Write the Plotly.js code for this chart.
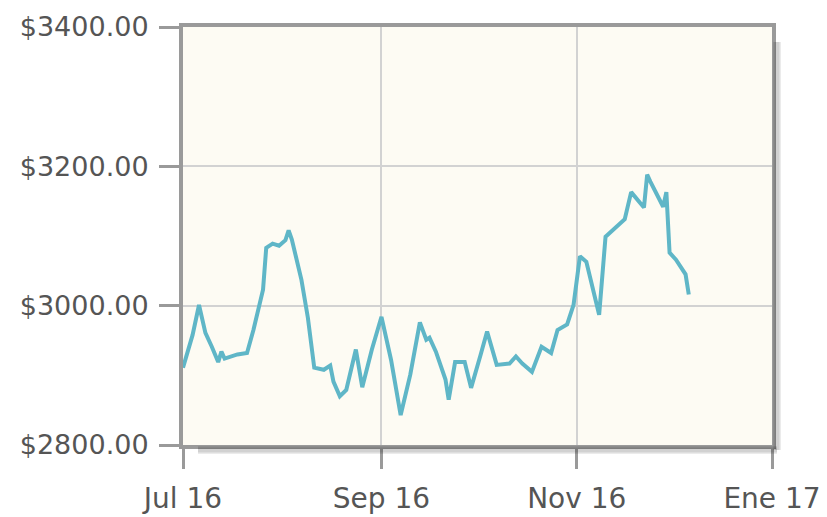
<!DOCTYPE html>
<html>
<head>
<meta charset="utf-8">
<script src="https://cdn.plot.ly/plotly-3.0.1.min.js"></script>
<style>html,body{margin:0;padding:0;background:#fff;}#chart{width:827px;height:517px;}</style>
</head>
<body>
<div id="chart"></div>
<script>
const dates = [
  "2016-07-01","2016-07-04","2016-07-06","2016-07-08","2016-07-10","2016-07-12","2016-07-13","2016-07-14",
  "2016-07-18","2016-07-21","2016-07-23","2016-07-26","2016-07-27","2016-07-29","2016-07-31","2016-08-02",
  "2016-08-03","2016-08-04","2016-08-07","2016-08-09","2016-08-11","2016-08-14","2016-08-16","2016-08-17",
  "2016-08-19","2016-08-21","2016-08-24","2016-08-26","2016-08-29","2016-09-01","2016-09-04","2016-09-06",
  "2016-09-07","2016-09-10","2016-09-13","2016-09-15","2016-09-16","2016-09-18","2016-09-21","2016-09-22",
  "2016-09-24","2016-09-27","2016-09-29","2016-10-02","2016-10-04","2016-10-07","2016-10-11","2016-10-13",
  "2016-10-15","2016-10-18","2016-10-21","2016-10-24","2016-10-26","2016-10-29","2016-10-31","2016-11-02",
  "2016-11-04","2016-11-08","2016-11-10","2016-11-16","2016-11-18","2016-11-22","2016-11-23","2016-11-24",
  "2016-11-28","2016-11-29","2016-11-30","2016-12-02","2016-12-05","2016-12-06"
];
const prices = [
  2911,2958,3001,2961,2941,2919,2934,2924,
  2930,2932,2965,3023,3083,3089,3086,3094,
  3108,3095,3037,2983,2911,2908,2914,2891,
  2870,2879,2937,2883,2937,2984,2922,2865,
  2843,2901,2976,2951,2954,2934,2894,2865,
  2919,2919,2882,2930,2963,2915,2917,2927,
  2917,2905,2941,2932,2965,2973,3001,3071,
  3063,2987,3099,3124,3163,3141,3188,3178,
  3142,3163,3076,3066,3045,3016
];
const xTickVals = ["2016-07-01","2016-09-01","2016-11-01","2017-01-01"];
const xTickText = ["Jul 16","Sep 16","Nov 16","Ene 17"];
const yTickVals = [2800,3000,3200,3400];
const yTickText = ["$2800.00","$3000.00","$3200.00","$3400.00"];

const W = 827, H = 517, mL = 183, mR = 55, mT = 27, mB = 72;
const pw = W - mL - mR, ph = H - mT - mB;
const dx = 5 / pw, dy = 5 / ph;
const shadow = [];
[[8,0.08],[5,0.11]].forEach(([w,a]) => {
  shadow.push({type:'line', xref:'paper', yref:'paper', x0:1+dx, x1:1+dx, y0:1-3*dy, y1:-dy, line:{color:'rgba(0,0,0,'+a+')', width:w}});
  shadow.push({type:'line', xref:'paper', yref:'paper', x0:3*dx, x1:1+dx, y0:-dy, y1:-dy, line:{color:'rgba(0,0,0,'+a+')', width:w}});
});

const yFont = {family:'"DejaVu Sans", sans-serif', size:27, color:'#555'};
const xFont = {family:'"DejaVu Sans", sans-serif', size:28, color:'#555'};

Plotly.newPlot('chart', [{
  x: dates, y: prices, type:'scatter', mode:'lines',
  line:{color:'#5fb6c7', width:4, shape:'linear'},
  hoverinfo:'skip'
}], {
  width: W, height: H,
  margin:{l:mL, r:mR, t:mT, b:mB, pad:0},
  paper_bgcolor:'#ffffff',
  plot_bgcolor:'#fdfbf3',
  showlegend:false,
  font: yFont,
  xaxis:{
    type:'date', range:["2016-07-01","2017-01-01"],
    tickmode:'array', tickvals:xTickVals, ticktext:xTickText,
    showgrid:true, gridcolor:'#d2d2d2', gridwidth:2,
    ticks:'outside', ticklen:20, tickwidth:3, tickcolor:'#9a9a9a',
    showline:true, linecolor:'#9a9a9a', linewidth:4, mirror:true,
    zeroline:false, tickfont:xFont, ticklabelstandoff:5, fixedrange:true
  },
  yaxis:{
    range:[2800,3400],
    tickmode:'array', tickvals:yTickVals, ticktext:yTickText,
    showgrid:true, gridcolor:'#d2d2d2', gridwidth:2,
    ticks:'outside', ticklen:20, tickwidth:3, tickcolor:'#9a9a9a',
    showline:true, linecolor:'#9a9a9a', linewidth:4, mirror:true,
    zeroline:false, tickfont:yFont, ticklabelstandoff:5, fixedrange:true
  },
  shapes: shadow
}, {displayModeBar:false, staticPlot:true});
</script>
</body>
</html>
